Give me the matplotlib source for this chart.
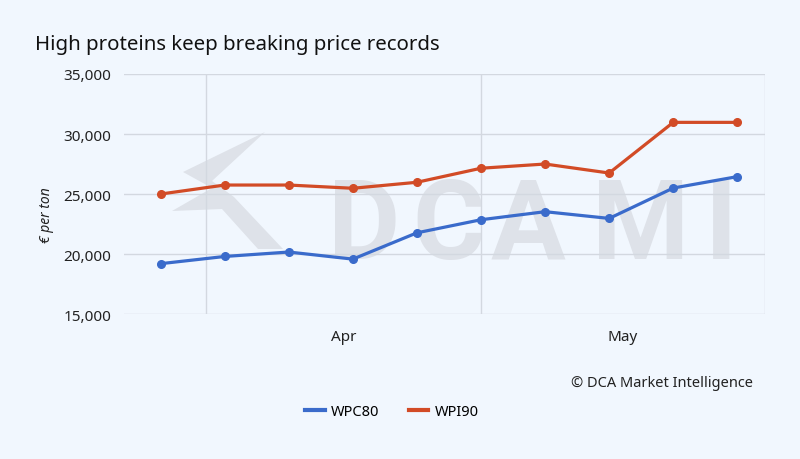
import matplotlib
matplotlib.use("Agg")
import matplotlib.pyplot as plt
import matplotlib.dates as mdates
from matplotlib.patches import Polygon
from matplotlib.ticker import FixedLocator
import numpy as np

# weekly prices, euro per ton
dates = np.array(["2023-03-27", "2023-04-03", "2023-04-10", "2023-04-17", "2023-04-24",
                  "2023-05-01", "2023-05-08", "2023-05-15", "2023-05-22", "2023-05-29"],
                 dtype="datetime64[D]")
wpc80 = [19200, 19800, 20170, 19580, 21770, 22860, 23530, 22970, 25500, 26450]
wpi90 = [25000, 25750, 25750, 25480, 25980, 27150, 27500, 26750, 30970, 30970]
yticks = [15000, 20000, 25000, 30000, 35000]
month_mid = ["2023-04-16T00:00", "2023-05-16T12:00"]

bg = "#f1f7fe"
grid = "#d3d8e0"
blue = "#3a6bcb"
red = "#d24b26"

plt.rcParams["font.family"] = ["Noto Sans", "DejaVu Sans"]

fig = plt.figure(figsize=(8, 4.6), dpi=100, facecolor=bg)
ax = fig.add_axes([0.155, 0.315, 0.801, 0.522], facecolor="none")

# watermark (logo + letters) drawn under the lines
wm = "#dee2e9"
logo_px = [(265, 133), (183, 173), (212, 189), (172, 212), (222, 210),
           (258, 250), (283, 250), (234, 198), (212, 182)]
logo = Polygon([(x / 800, 1 - y / 460) for x, y in logo_px], closed=True,
               transform=fig.transFigure, facecolor=wm, edgecolor="none",
               zorder=1, clip_on=False)
ax.add_patch(logo)
for ch, px in [("D", 364), ("C", 449), ("A", 528), ("M", 641), ("I", 721)]:
    ax.text(px / 800, 1 - 259 / 460, ch, transform=fig.transFigure,
            family="Roboto", fontsize=80, fontweight="bold", color=wm,
            ha="center", va="baseline", zorder=1, clip_on=False)

ax.plot(dates, wpc80, color=blue, lw=2.3, marker="o", ms=5.5, label="WPC80", zorder=3)
ax.plot(dates, wpi90, color=red, lw=2.3, marker="o", ms=5.5, label="WPI90", zorder=3)

ax.set_ylim(15000, 35000)
ax.set_yticks(yticks)
ax.set_yticklabels([f"{v:,}" for v in yticks])
ax.set_xlim(np.datetime64("2023-03-23"), np.datetime64("2023-06-01"))

# month boundaries as gridlines, month names centred in between
ax.xaxis.set_major_locator(mdates.MonthLocator())
ax.xaxis.set_major_formatter(plt.NullFormatter())
ax.xaxis.set_minor_locator(FixedLocator(mdates.date2num(np.array(month_mid, dtype="datetime64[m]"))))
ax.xaxis.set_minor_formatter(mdates.DateFormatter("%b"))
ax.tick_params(axis="x", which="both", length=0, pad=11, labelsize=11, colors="#222222")
ax.tick_params(axis="y", length=0, pad=9, labelsize=11, colors="#222222")

ax.grid(True, which="major", color=grid, lw=1)
for s in ax.spines.values():
    s.set_visible(False)

ax.set_ylabel("€ per ton", fontsize=10, style="italic", color="#222222")
ax.yaxis.set_label_coords(-0.11, 0.417)

fig.text(35 / 800, 1 - 45 / 460, "High proteins keep breaking price records",
         fontsize=14.7, ha="left", va="center", color="#111111")
fig.text(753 / 800, 1 - 384 / 460, "© DCA Market Intelligence",
         fontsize=10.5, ha="right", va="center", color="#222222")

leg = fig.legend(loc="center", bbox_to_anchor=(0.49, 1 - 413 / 460), ncol=2,
                 frameon=False, fontsize=10.5, handlelength=1.35, handletextpad=0.45,
                 columnspacing=2.0)
for h in leg.legend_handles:
    h.set_marker("")
    h.set_linewidth(3)

fig.savefig("out.png", dpi=100, facecolor=bg)
